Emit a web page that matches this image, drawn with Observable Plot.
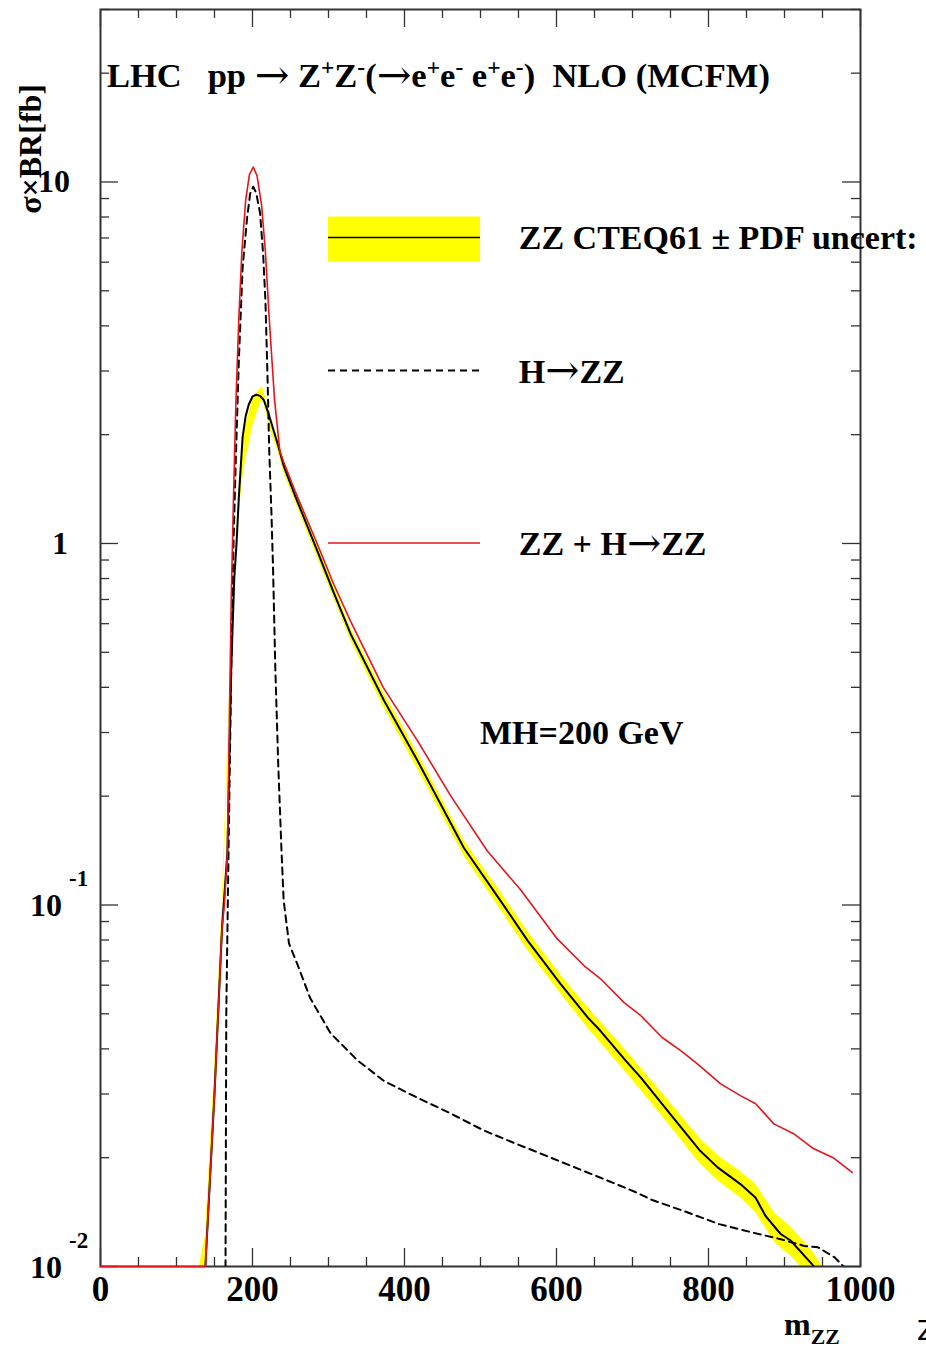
<!DOCTYPE html>
<html>
<head>
<meta charset="utf-8">
<script src="https://cdn.jsdelivr.net/npm/d3@7"></script>
<script src="https://cdn.jsdelivr.net/npm/@observablehq/plot@0.6"></script>
<style>
html, body { margin: 0; padding: 0; background: #ffffff; }
#chart svg { display: block; }
</style>
</head>
<body>
<div id="chart"></div>
<script>
// ---------------- data ----------------
// ZZ continuum, NLO CTEQ61 (solid black), m_ZZ [GeV] vs sigma x BR [fb]
const zzMass = [138, 150, 160, 167, 172, 176, 179, 182, 187, 191, 195, 200, 205, 210, 215, 221, 227, 233, 241, 257, 285, 307, 329, 373, 417, 478, 526, 562, 605, 641, 658, 691, 711, 746, 789, 812, 842, 862, 875, 888, 895, 908, 937, 950];
const zzXsec = [0.01, 0.03, 0.087, 0.14, 0.45, 0.8, 1.0, 1.34, 1.97, 2.25, 2.42, 2.55, 2.58, 2.56, 2.49, 2.29, 2.08, 1.89, 1.64, 1.34, 0.957, 0.73, 0.563, 0.368, 0.251, 0.144, 0.103, 0.0797, 0.0606, 0.0489, 0.0448, 0.0371, 0.0333, 0.027, 0.0209, 0.0188, 0.0169, 0.0155, 0.0138, 0.0128, 0.0123, 0.0118, 0.0101, 0.0092];

// PDF uncertainty band (yellow)
const bandMass = [128, 138, 150, 160, 170, 180, 186, 190, 200, 208, 213, 218, 225, 233, 241, 257, 285, 329, 373, 417, 478, 526, 562, 605, 641, 691, 746, 789, 812, 842, 862, 888, 908, 937, 960];
const bandLow  = [0.0085, 0.0102, 0.03, 0.087, 0.355, 1.04, 1.45, 1.66, 2.1, 2.36, 2.52, 2.3, 2.02, 1.81, 1.57, 1.29, 0.92, 0.54, 0.351, 0.238, 0.137, 0.0973, 0.0749, 0.057, 0.0457, 0.0345, 0.025, 0.0192, 0.0173, 0.0155, 0.0141, 0.0116, 0.0107, 0.0092, 0.0077];
const bandHigh = [0.0095, 0.0122, 0.035, 0.1, 0.405, 1.16, 1.75, 2.07, 2.5, 2.65, 2.72, 2.5, 2.18, 1.97, 1.71, 1.39, 0.995, 0.585, 0.385, 0.264, 0.151, 0.109, 0.0845, 0.0642, 0.0521, 0.0397, 0.029, 0.0226, 0.0203, 0.0183, 0.0169, 0.014, 0.0129, 0.011, 0.0093];

// H -> ZZ signal, MH = 200 GeV (dashed)
const hMass = [164, 164.5, 165.5, 168, 172, 175, 178, 182, 187, 193, 197, 201, 205, 210, 214, 217, 220, 222, 225, 227, 230, 234, 238, 241, 248, 259, 276, 303, 338, 373, 417, 461, 504, 548, 570, 658, 703, 725, 769, 814, 859, 895, 926, 944, 966, 990];
const hXsec = [0.005, 0.01, 0.05, 0.12, 0.45, 1.0, 1.7, 3.2, 5.8, 8.0, 9.3, 9.7, 9.3, 8.2, 6.3, 4.7, 2.77, 1.81, 1.2, 0.86, 0.454, 0.24, 0.144, 0.103, 0.0783, 0.0686, 0.0552, 0.0441, 0.0372, 0.0326, 0.0293, 0.0265, 0.0238, 0.0218, 0.0209, 0.0176, 0.0161, 0.0153, 0.0142, 0.0131, 0.0124, 0.0119, 0.0114, 0.0113, 0.0106, 0.0094];

// ZZ + H -> ZZ (red)
const sumMass = [0, 138, 150, 160, 163, 167, 170, 172, 175, 178, 182, 186, 191, 196, 201, 206, 212, 217, 222, 229, 236, 241, 257, 285, 307, 329, 372, 417, 461, 509, 553, 600, 636, 658, 689, 711, 739, 763, 785, 816, 842, 862, 886, 912, 938, 964, 989];
const sumXsec = [0.01, 0.01, 0.03, 0.087, 0.1, 0.14, 0.37, 0.7, 1.34, 2.4, 4.2, 6.4, 8.9, 10.5, 11.0, 10.4, 8.6, 6.4, 4.2, 2.5, 1.8, 1.68, 1.38, 1.0, 0.77, 0.61, 0.40, 0.285, 0.2, 0.141, 0.110, 0.081, 0.068, 0.0625, 0.0537, 0.0494, 0.043, 0.0396, 0.0364, 0.032, 0.0297, 0.0282, 0.0248, 0.0233, 0.0212, 0.020, 0.0182];

// axis ticks and labels
const xTickValues = [0, 200, 400, 600, 800, 1000];
const xTickLabels = ["0", "200", "400", "600", "800", "1000"];
const yTickValues = [10, 1, 0.1, 0.01];
const yTickBase = ["10", "1", "10", "10"];
const yTickExp = ["", "", "-1", "-2"];

// ---------------- build tables ----------------
const zz = zzMass.map((m, i) => ({m, v: zzXsec[i]}));
const band = bandMass.map((m, i) => ({m, lo: bandLow[i], hi: bandHigh[i]}));
const hzz = hMass.map((m, i) => ({m, v: hXsec[i]}));
const sum = sumMass.map((m, i) => ({m, v: sumXsec[i]}));

const xMinor = d3.range(0, 1001, 50).filter(v => v % 200 !== 0);
const yMinor = [];
for (const e of [-2, -1, 0, 1]) for (let k = 2; k <= 9; k++) { const v = k * Math.pow(10, e); if (v <= 30) yMinor.push(v); }

// ---------------- layout ----------------
const W = 926, H = 1349;
const mL = 100, mR = 66, mT = 9, mB = 83;
const iW = W - mL - mR, iH = H - mT - mB;
const FONT = '"Liberation Serif", "Times New Roman", Times, serif';
const ARROWFONT = '"DejaVu Serif", serif';
const RED = "#e3161d", YEL = "#ffff00", FRAME = "#333333";
const majL = 18, minL = 9;

const chart = Plot.plot({
  width: W, height: H,
  marginLeft: mL, marginRight: mR, marginTop: mT, marginBottom: mB,
  x: {domain: [0, 1000], axis: null},
  y: {type: "log", domain: [0.01, 30], axis: null},
  marks: [
    Plot.areaY(band, {x: "m", y1: "lo", y2: "hi", fill: YEL, clip: true}),
    // ticks (inward, on all four sides)
    Plot.tickX(xTickValues, {x: d => d, insetTop: iH - majL, stroke: FRAME, strokeWidth: 1.3}),
    Plot.tickX(xTickValues, {x: d => d, insetBottom: iH - majL, stroke: FRAME, strokeWidth: 1.3}),
    Plot.tickX(xMinor, {x: d => d, insetTop: iH - minL, stroke: FRAME, strokeWidth: 1.3}),
    Plot.tickX(xMinor, {x: d => d, insetBottom: iH - minL, stroke: FRAME, strokeWidth: 1.3}),
    Plot.tickY(yTickValues, {y: d => d, insetRight: iW - majL, stroke: FRAME, strokeWidth: 1.3}),
    Plot.tickY(yTickValues, {y: d => d, insetLeft: iW - majL, stroke: FRAME, strokeWidth: 1.3}),
    Plot.tickY(yMinor, {y: d => d, insetRight: iW - minL, stroke: FRAME, strokeWidth: 1.3}),
    Plot.tickY(yMinor, {y: d => d, insetLeft: iW - minL, stroke: FRAME, strokeWidth: 1.3}),
    Plot.frame({stroke: FRAME, strokeWidth: 2}),
    Plot.line(zz, {x: "m", y: "v", stroke: "#000", strokeWidth: 2, clip: true}),
    Plot.line(hzz, {x: "m", y: "v", stroke: "#000", strokeWidth: 2, strokeDasharray: "7,5", clip: true}),
    Plot.line(sum, {x: "m", y: "v", stroke: RED, strokeWidth: 1.6}),
    // x tick labels
    Plot.text(xTickValues, {x: d => d, frameAnchor: "bottom", dy: 34, text: (d, i) => xTickLabels[i],
      fontSize: 35, fontWeight: "bold", fontFamily: FONT, fill: "#000"})
  ]
});
document.getElementById("chart").appendChild(chart);

// scales
const ys = chart.scale("y");
const xs = chart.scale("x");
const logSpan = Math.log10(30) - Math.log10(0.01);
const sy = (ys && ys.apply) ? (v => ys.apply(v)) : (v => mT + iH * (Math.log10(30) - Math.log10(v)) / logSpan);
const sx = (xs && xs.apply) ? (v => xs.apply(v)) : (v => mL + iW * v / 1000);

const svg = d3.select(chart);
const g = svg.append("g");

// parts: [string, kind] with kind n (normal), sup, sub, arr (arrow glyph)
function richText(x, y, parts, size, anchor = "start", opts = {}) {
  const t = g.append("text")
    .attr("x", x).attr("y", y)
    .attr("text-anchor", anchor)
    .attr("xml:space", "preserve")
    .style("font-family", opts.family || FONT)
    .style("font-weight", opts.weight || "bold")
    .style("font-size", size + "px")
    .style("white-space", "pre")
    .attr("fill", opts.fill || "#000");
  let shift = 0;
  for (const [s, k] of parts) {
    const target = k === "sup" ? -0.36 * size : k === "sub" ? 0.28 * size : k === "arr" ? 0.05 * size : 0;
    const ts = t.append("tspan").attr("dy", target - shift).text(s);
    if (k === "sup" || k === "sub") ts.style("font-size", (size * 0.68) + "px");
    if (k === "arr") ts.style("font-family", ARROWFONT).style("font-weight", "normal").style("font-size", (size * 1.2) + "px");
    shift = target;
  }
  return t;
}

// y tick labels
yTickValues.forEach((v, i) => {
  const yy = sy(v);
  if (yTickExp[i] === "") {
    const right = i === 0 ? 70 : 68;
    richText(right, yy + 11, [[yTickBase[i], "n"]], 32, "end");
  } else {
    richText(62, yy + 12, [[yTickBase[i], "n"]], 32, "end");
    richText(69, yy - 18, [[yTickExp[i], "n"]], 23, "start");
  }
});

// y axis title (rotated)
g.append("text")
  .attr("transform", `translate(41, 84) rotate(-90)`)
  .attr("text-anchor", "end")
  .style("font-family", FONT).style("font-weight", "bold").style("font-size", "32px")
  .text("\u03C3\u00D7BR[fb]");

// x axis title
richText(784, 1335, [["m", "n"], ["ZZ", "sub"]], 32, "start");
richText(917, 1340, [["Z", "n"]], 27, "start", {family: '"DejaVu Sans", sans-serif', weight: "normal"});

// title
richText(107, 87, [["LHC   pp ", "n"], ["\u2192", "arr"], [" Z", "n"], ["+", "sup"], ["Z", "n"], ["-", "sup"], ["(", "n"], ["\u2192", "arr"], ["e", "n"], ["+", "sup"], ["e", "n"], ["-", "sup"], [" e", "n"], ["+", "sup"], ["e", "n"], ["-", "sup"], [")  NLO (MCFM)", "n"]], 34.5, "start");

// legend
const lx1 = sx(300), lx2 = sx(500), ltx = sx(551);
const rowY = [sy(7), sy(3), sy(1)];
g.append("rect").attr("x", lx1).attr("y", sy(8)).attr("width", lx2 - lx1).attr("height", sy(6) - sy(8)).attr("fill", YEL);
g.append("line").attr("x1", lx1).attr("x2", lx2).attr("y1", rowY[0]).attr("y2", rowY[0]).attr("stroke", "#000").attr("stroke-width", 1.5);
g.append("line").attr("x1", lx1).attr("x2", lx2).attr("y1", rowY[1]).attr("y2", rowY[1]).attr("stroke", "#000").attr("stroke-width", 2).attr("stroke-dasharray", "7,5");
g.append("line").attr("x1", lx1).attr("x2", lx2).attr("y1", rowY[2]).attr("y2", rowY[2]).attr("stroke", RED).attr("stroke-width", 1.6);
richText(ltx, rowY[0] + 12, [["ZZ CTEQ61 \u00B1 PDF uncert:", "n"]], 34, "start");
richText(ltx, rowY[1] + 12, [["H", "n"], ["\u2192", "arr"], ["ZZ", "n"]], 34, "start");
richText(ltx, rowY[2] + 12, [["ZZ + H", "n"], ["\u2192", "arr"], ["ZZ", "n"]], 34, "start");

// annotation
richText(sx(500), sy(0.3) + 12, [["MH=200 GeV", "n"]], 34, "start");
</script>
</body>
</html>
